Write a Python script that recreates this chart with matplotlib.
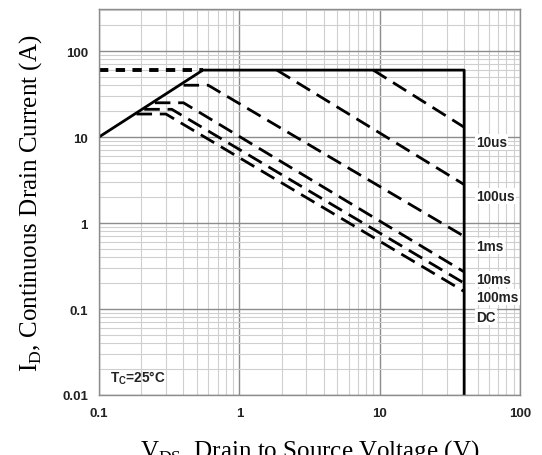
import numpy as np
import matplotlib.pyplot as plt

# safe operating area
soa_v = [0.1, 0.55, 40, 40]
soa_i = [10, 60, 60, 0.01]
pkg_v = [0.1, 0.55]
pkg_i = [60, 60]

pulse_labels = ['10us', '100us', '1ms', '10ms', '100ms', 'DC']
pulse_v = [[9, 40],
           [1.85, 40],
           [0.4, 0.6, 40],
           [0.25, 0.4, 40],
           [0.21, 0.33, 40],
           [0.185, 0.3, 40]]
pulse_i = [[60, 13],
           [60, 2.8],
           [40, 40, 0.7],
           [25, 25, 0.27],
           [21, 21, 0.2],
           [18.5, 18.5, 0.16]]
label_y = [8.75, 2.06, 0.54, 0.223, 0.138, 0.081]

x_ticks = [0.1, 1, 10, 100]
x_ticklabels = ['0.1', '1', '10', '100']
y_ticks = [0.01, 0.1, 1, 10, 100]
y_ticklabels = ['0.01', '0.1', '1', '10', '100']

fig = plt.figure(figsize=(5.42, 4.56), dpi=100)
ax = fig.add_axes([99/542, 60/456, 421/542, 386/456])
ax.set_xscale('log')
ax.set_yscale('log')
ax.set_xlim(0.1, 100)
ax.set_ylim(0.01, 308)

ax.grid(which='major', color='#8c8c8c', linewidth=1.0)
ax.grid(which='minor', color='#cfcfcf', linewidth=0.8)
ax.set_axisbelow(True)
for s in ax.spines.values():
    s.set_color('#8c8c8c')
    s.set_linewidth(1.0)

ax.plot(soa_v, soa_i, color='black', linewidth=2.0, solid_capstyle='butt')
ax.plot(pkg_v, pkg_i, color='black', linewidth=2.8, dashes=(2.4, 1.9))

for v, i in zip(pulse_v, pulse_i):
    ax.plot(v, i, color='black', linewidth=2.0, dashes=(5.6, 2.8))

for lab, y in zip(pulse_labels, label_y):
    ax.text(48.5, y, lab, ha='left', va='center', fontsize=9.8, fontweight='bold',
            family='Liberation Sans', color='#222222',
            bbox=dict(facecolor='white', edgecolor='none', pad=1.0))

ax.text(0.12, 0.016, r'T$_\mathregular{C}$=25°C', fontsize=9.8, fontweight='bold',
        family='Liberation Sans', ha='left', va='center', color='#222222')

ax.set_xticks(x_ticks)
ax.set_xticklabels(x_ticklabels)
ax.set_yticks(y_ticks)
ax.set_yticklabels(y_ticklabels)
ax.tick_params(which='both', length=0)
ax.tick_params(axis='x', pad=9)
ax.tick_params(axis='y', pad=8)
for t in ax.get_xticklabels() + ax.get_yticklabels():
    t.set_fontfamily('Liberation Sans')
    t.set_fontweight('bold')
    t.set_fontsize(9.5)
    t.set_color('#222222')

ax.set_ylabel(r'I$_\mathregular{D}$, Continuous Drain Current (A)', family='Liberation Serif',
              fontsize=18, labelpad=13)
ax.set_xlabel(r'V$_\mathregular{DS}$, Drain to Source Voltage (V)', family='Liberation Serif',
              fontsize=18, labelpad=13)

fig.savefig('out.png', dpi=100)
